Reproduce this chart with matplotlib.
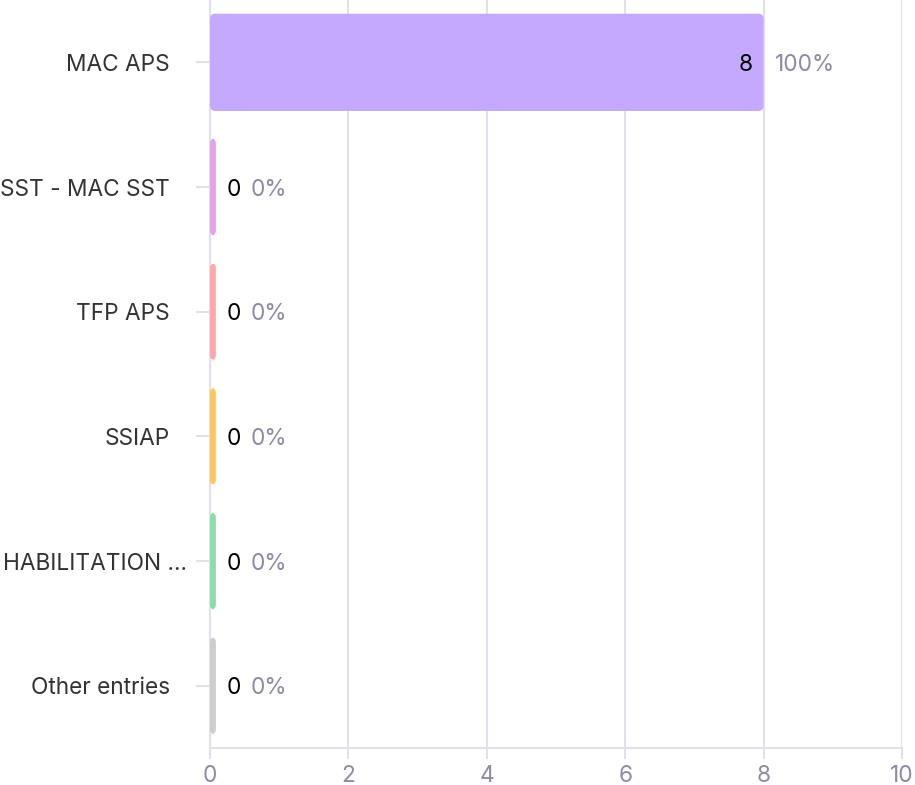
import matplotlib.pyplot as plt
from matplotlib.patches import FancyBboxPatch

# data
categories = ['MAC APS', 'SST - MAC SST', 'TFP APS', 'SSIAP', 'HABILITATION ...', 'Other entries']
counts = [8, 0, 0, 0, 0, 0]
percents = ['100%', '0%', '0%', '0%', '0%', '0%']
colors = ['#c5a8ff', '#e2a3ec', '#ffa7a9', '#ffc65c', '#8fdcaa', '#cdcdcd']

plt.rcParams['font.family'] = ['Inter', 'DejaVu Sans']
grid_col = '#e1e1ec'
tick_col = '#8b8ba6'
fs = 16.3

fig = plt.figure(figsize=(9.15, 7.85), dpi=100)
ax = fig.add_axes([210 / 915, 37 / 785, 692 / 915, 748 / 785])

ypos = list(range(len(categories)))
# tiny stub so empty categories still show a sliver
shown = [max(c, 0.085) for c in counts]
bars = ax.barh(ypos, shown, height=0.78, color=colors)

# swap plain rectangles for rounded ones
for b in bars:
    x0, y0 = b.get_x(), b.get_y()
    w, h = b.get_width(), b.get_height()
    r = min(0.085, w)
    patch = FancyBboxPatch((x0, y0), w, h,
                           boxstyle='round,pad=0,rounding_size={}'.format(r * 0.9),
                           mutation_aspect=(6 / 748) / (10 / 692),
                           facecolor=b.get_facecolor(), edgecolor='none', zorder=3)
    ax.add_patch(patch)
    b.set_visible(False)

ax.set_xlim(0, 10)
ax.set_ylim(len(categories) - 0.5, -0.5)
ax.set_xticks(range(0, 11, 2))
ax.set_yticks(ypos)
ax.set_yticklabels([''] * len(categories))

ax.grid(axis='x', color=grid_col, linewidth=1.5, zorder=0)
ax.set_axisbelow(True)
for s in ['top', 'right']:
    ax.spines[s].set_visible(False)
ax.spines['left'].set_color(grid_col)
ax.spines['bottom'].set_color(grid_col)
ax.spines['left'].set_linewidth(1.5)
ax.spines['bottom'].set_linewidth(1.5)
ax.tick_params(axis='x', colors=grid_col, labelcolor=tick_col, labelsize=fs,
               length=8, width=1.5, pad=4)
ax.tick_params(axis='y', colors=grid_col, length=10, width=1.5)

# category labels
for y, cat in zip(ypos, categories):
    if cat.endswith('...'):
        ax.text(-207 / 692, y, cat, transform=ax.get_yaxis_transform(),
                ha='left', va='center_baseline', fontsize=fs, color='#333333')
    else:
        ax.text(-40 / 692, y, cat, transform=ax.get_yaxis_transform(),
                ha='right', va='center_baseline', fontsize=fs, color='#333333')

# value + percent labels
for y, c, s, p in zip(ypos, shown, counts, percents):
    if c > 1:
        ax.annotate(str(s), (c, y), xytext=(-8, 0), textcoords='offset points',
                    ha='right', va='center_baseline', fontsize=fs, color='black', zorder=4)
        ax.annotate(p, (c, y), xytext=(8, 0), textcoords='offset points',
                    ha='left', va='center_baseline', fontsize=fs, color=tick_col, zorder=4)
    else:
        ax.annotate(str(s), (c, y), xytext=(8, 0), textcoords='offset points',
                    ha='left', va='center_baseline', fontsize=fs, color='black', zorder=4)
        ax.annotate(p, (c, y), xytext=(25, 0), textcoords='offset points',
                    ha='left', va='center_baseline', fontsize=fs, color=tick_col, zorder=4)

plt.savefig('out.png', dpi=100)
plt.close()
